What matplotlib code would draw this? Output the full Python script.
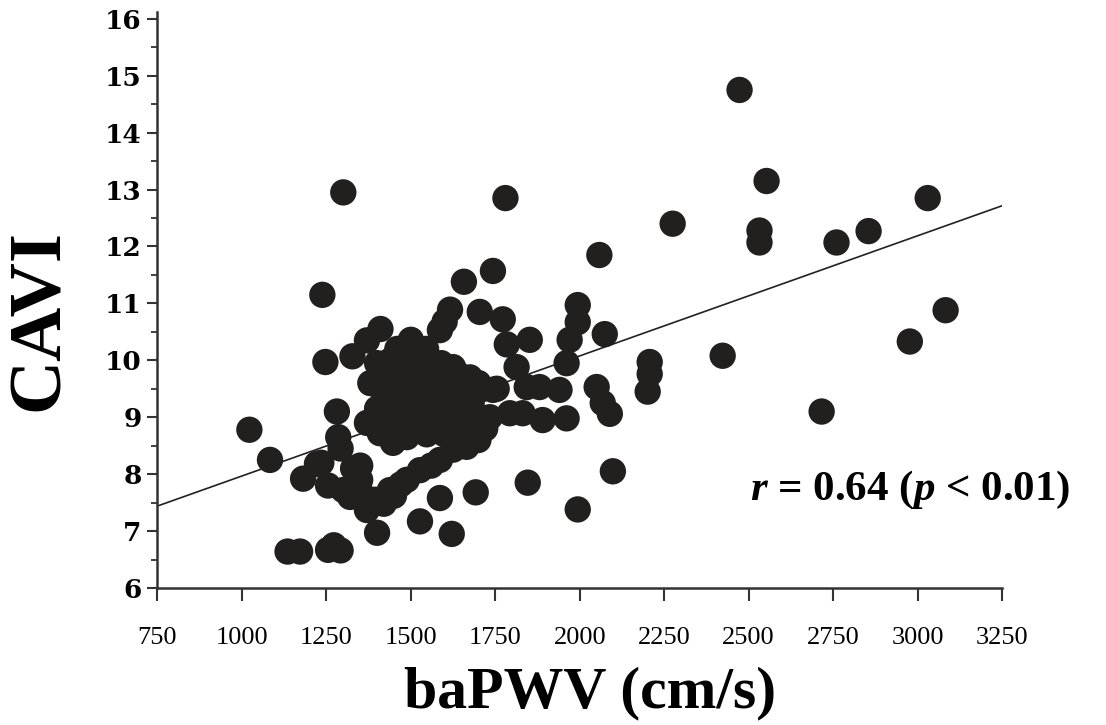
import numpy as np
import matplotlib
matplotlib.use("Agg")
import matplotlib.pyplot as plt

# datos (baPWV en cm/s, CAVI)
bapwv = [
    # zona izquierda dispersa
    1022, 1083, 1135, 1172, 1255, 1272, 1292, 1181, 1222, 1235,
    1238, 1247, 1300, 1327, 1281, 1285, 1292, 1255, 1329, 1320,
    1350, 1300, 1350, 1370, 1400, 1395, 1420, 1350,
    # banda inferior ascendente
    1438, 1470, 1488, 1527, 1560, 1586, 1625, 1665, 1700, 1450,
    1586, 1527, 1621, 1692, 1846, 1994, 2098,
    # nucleo denso
    1370, 1410, 1500, 1460, 1545, 1380,
    1400, 1440, 1470, 1510, 1550, 1590, 1625,
    1390, 1430, 1465, 1500, 1540, 1580, 1640, 1675, 1700,
    1420, 1477, 1520, 1577, 1610, 1650, 1704, 1743, 1754,
    1400, 1450, 1500, 1550, 1600, 1640, 1680,
    1370, 1428, 1470, 1506, 1560, 1616, 1660, 1704, 1734, 1793,
    1408, 1447, 1488, 1547, 1600, 1650, 1690, 1720,
    # borde superior del nucleo
    1586, 1616, 1657, 1704, 1743, 1772, 1784, 1600, 1780,
    # zona central derecha
    1813, 1843, 1852, 1831, 1881, 1890, 1940, 1961, 1961, 1970,
    1994, 1994, 2050, 2068, 2089, 2074, 2058, 2207, 2207, 2201,
    # valores altos
    2275, 2473, 2553, 2532, 2532, 2760, 2855, 3030, 3083, 2977,
    2423, 2716,
]
cavi = [
    8.78, 8.25, 6.64, 6.64, 6.67, 6.75, 6.66, 7.92, 8.18, 8.20,
    11.15, 9.97, 12.95, 10.07, 9.10, 8.65, 8.45, 7.80, 8.10, 7.60,
    7.70, 7.72, 8.15, 7.37, 6.97, 7.55, 7.48, 7.90,
    7.72, 7.82, 7.90, 8.07, 8.15, 8.25, 8.43, 8.48, 8.60, 7.62,
    7.58, 7.17, 6.95, 7.68, 7.85, 7.38, 8.05,
    10.35, 10.55, 10.36, 10.20, 10.20, 9.60,
    9.95, 10.00, 10.00, 9.95, 10.05, 9.95, 9.88,
    9.62, 9.78, 9.70, 9.75, 9.80, 9.70, 9.75, 9.70, 9.60,
    9.40, 9.48, 9.50, 9.43, 9.40, 9.50, 9.48, 9.48, 9.50,
    9.15, 9.20, 9.25, 9.20, 9.25, 9.20, 9.25,
    8.90, 9.00, 8.95, 9.00, 8.95, 9.00, 8.95, 9.00, 9.00, 9.07,
    8.72, 8.55, 8.65, 8.70, 8.70, 8.75, 8.80, 8.80,
    10.53, 10.89, 11.38, 10.85, 11.57, 10.72, 10.28, 10.68, 12.85,
    9.88, 9.53, 10.36, 9.07, 9.53, 8.95, 9.48, 8.98, 9.95, 10.36,
    10.67, 10.97, 9.53, 9.25, 9.06, 10.46, 11.85, 9.97, 9.76, 9.45,
    12.40, 14.75, 13.15, 12.28, 12.07, 12.07, 12.27, 12.85, 10.88, 10.33,
    10.08, 9.10,
]

# recta de regresion
fit_intercept = 7.44   # CAVI en 750 cm/s
fit_slope = 0.00211    # por cm/s

x_ticks = [750, 1000, 1250, 1500, 1750, 2000, 2250, 2500, 2750, 3000, 3250]
y_ticks = [6, 7, 8, 9, 10, 11, 12, 13, 14, 15, 16]

plt.rcParams["mathtext.fontset"] = "custom"
plt.rcParams["mathtext.rm"] = "Liberation Serif:bold"
plt.rcParams["mathtext.it"] = "Liberation Serif:italic:bold"

fig = plt.figure(figsize=(11.06, 7.25), dpi=100)
ax = fig.add_axes([0.1424, 0.189, 0.7636, 0.7945])

ax.scatter(bapwv, cavi, s=360, color="#221f1f", edgecolors="none", zorder=3)

xs = np.array([750, 3250])
ax.plot(xs, fit_intercept + fit_slope * (xs - 750), color="#222222", lw=1.2, zorder=2)

ax.set_xlim(750, 3250)
ax.set_ylim(6, 16.12)
ax.set_xticks(x_ticks)
ax.set_yticks(y_ticks)
ax.set_yticks(np.arange(6.5, 16, 1.0), minor=True)
ax.set_xticklabels([str(v) for v in x_ticks], fontfamily="Liberation Serif", fontsize=19)
ax.set_yticklabels([str(v) for v in y_ticks], fontfamily="DejaVu Serif", fontweight="bold", fontsize=19)

for s in ["top", "right"]:
    ax.spines[s].set_visible(False)
for s in ["left", "bottom"]:
    ax.spines[s].set_linewidth(1.8)
    ax.spines[s].set_color("#333333")

ax.tick_params(axis="x", direction="out", length=9, width=1.5, pad=19, colors="#333333", labelcolor="black")
ax.tick_params(axis="y", which="major", direction="out", length=7.5, width=1.5, pad=4, colors="#333333", labelcolor="black")
ax.tick_params(axis="y", which="minor", direction="out", length=4.5, width=1.3, colors="#333333")

fig.text(40 / 1106, 1 - 320 / 725, "CAVI", rotation=90, ha="center", va="center",
         fontfamily="Liberation Serif", fontweight="bold", fontsize=54)
fig.text(590 / 1106, 1 - 707 / 725, "baPWV (cm/s)", ha="center", va="baseline",
         fontfamily="Liberation Serif", fontweight="bold", fontsize=43)
ax.text(2505, 7.72, r"$\mathit{r}$ = 0.64 ($\mathit{p}$ < 0.01)", ha="left", va="center",
        fontfamily="Liberation Serif", fontweight="bold", fontsize=31)

fig.savefig("out.png", dpi=100, facecolor="white")
